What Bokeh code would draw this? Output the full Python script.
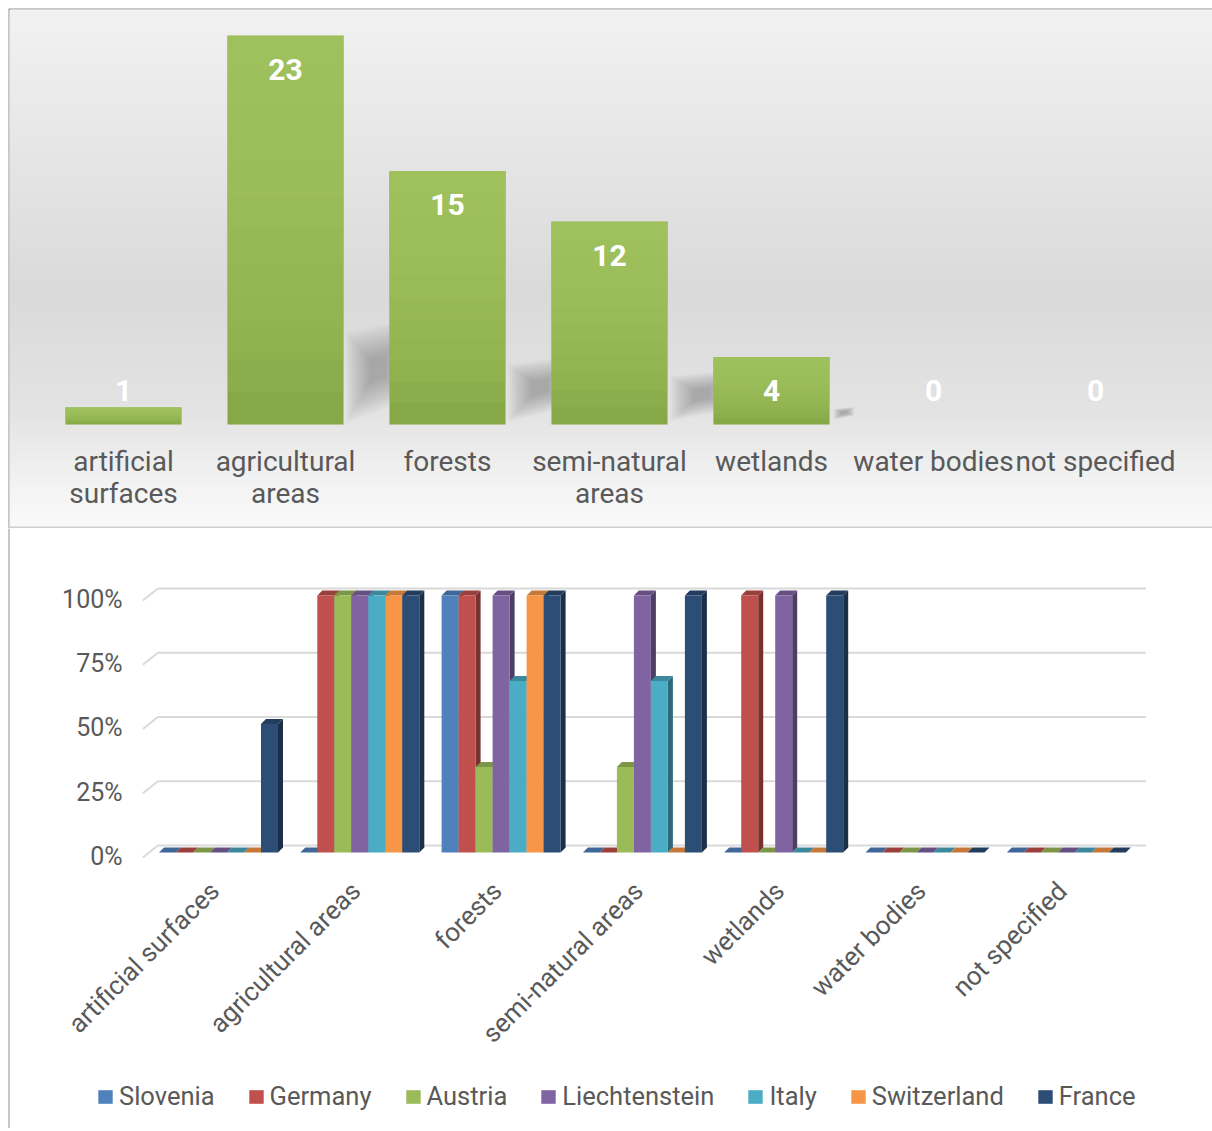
import numpy as np
from bokeh.plotting import figure
from bokeh.models import Range1d, Legend, LegendItem, Span
from bokeh.layouts import column
from bokeh.core.properties import value
from bokeh.embed import file_html
from bokeh.resources import INLINE

# ---------------- data ----------------
top_categories = ["artificial\nsurfaces", "agricultural\nareas", "forests",
                  "semi-natural\nareas", "wetlands", "water bodies", "not specified"]
top_counts = [1, 23, 15, 12, 4, 0, 0]

categories = ["artificial surfaces", "agricultural areas", "forests",
              "semi-natural areas", "wetlands", "water bodies", "not specified"]
countries = ["Slovenia", "Germany", "Austria", "Liechtenstein", "Italy", "Switzerland", "France"]
slovenia = [0, 0, 100, 0, 0, 0, 0]
germany = [0, 100, 100, 0, 100, 0, 0]
austria = [0, 100, 33.3, 33.3, 0, 0, 0]
liechtenstein = [0, 100, 100, 100, 100, 0, 0]
italy = [0, 100, 66.7, 66.7, 0, 0, 0]
switzerland = [0, 100, 100, 0, 0, 0, 0]
france = [50, 100, 100, 100, 100, 0, 0]
series = [slovenia, germany, austria, liechtenstein, italy, switzerland, france]
y_ticks = [0, 25, 50, 75, 100]
y_tick_labels = ["0%", "25%", "50%", "75%", "100%"]
colors = ["#4f81bd", "#c0504d", "#9bbb59", "#8064a2", "#4bacc6", "#f79646", "#2c4d75"]

FONT = value("Roboto")
GRAY_TXT = "#595959"


def shade(hexc, f):
    h = hexc.lstrip("#")
    r, g, b = (int(h[k:k + 2], 16) for k in (0, 2, 4))
    return "#%02x%02x%02x" % (int(r * f), int(g * f), int(b * f))


# ---------------- top chart ----------------
TW, TH = 1204, 520
tx0 = -0.7037
tx1 = tx0 + 1203 / 162
ty0, ty1 = -6.154, 24.556
top = figure(width=TW, height=TH, x_range=Range1d(tx0, tx1), y_range=Range1d(ty0, ty1),
             toolbar_location=None, output_backend="svg",
             x_axis_location=None, y_axis_location=None,
             min_border_left=1, min_border_top=1, min_border_right=0, min_border_bottom=0,
             border_fill_color="#222222", outline_line_color=None)
top.grid.visible = False

# background gradient
ny = 260
d = 1 - np.linspace(0, 1, ny)  # distance from top (row 0 is bottom)
gray = np.interp(d, [0, 0.3, 0.55, 0.78, 0.92, 1.0], [242, 229, 218, 228, 244, 250]).astype(np.uint8)
img = np.zeros((ny, 1), dtype=np.uint32)
view = img.view(dtype=np.uint8).reshape((ny, 1, 4))
view[:, 0, 0] = gray
view[:, 0, 1] = gray
view[:, 0, 2] = gray
view[:, 0, 3] = 255
top.image_rgba(image=[img], x=tx0, y=ty0, dw=tx1 - tx0, dh=ty1 - ty0)

xi = np.arange(len(top_counts))
vals = np.array(top_counts, dtype=float)
BARW = 0.716

# soft cast shadows behind the bars (layered polygons shrinking toward their centre)
xr = xi + BARW / 2
for k in range(13):
    s = 1.08 - 0.065 * k
    sxs, sys = [], []
    for x_edge, v in zip(xr, vals):
        if v < 3:
            continue
        y_hi = 0.23 * v
        y_lo = 0.3
        w = min(0.36, 0.03 * v)
        xa, xb = x_edge + 0.03, x_edge + 0.03 + w
        px = np.array([xa, xa, xb, xb])
        py = np.array([y_lo, y_hi, y_hi + 0.13 * y_hi, y_lo + 0.25 * y_hi])
        cxp, cyp = px.mean(), py.mean()
        sxs.append(list(cxp + (px - cxp) * s))
        sys.append(list(np.maximum(cyp + (py - cyp) * s, 0.05)))
    top.patches(xs=sxs, ys=sys, fill_color="black", fill_alpha=0.02, line_color=None)

top.vbar(x=xi, top=vals, bottom=0, width=BARW, fill_color="#80a342", line_color=None)
nl = 12
for k in range(nl):
    top.vbar(x=xi, top=vals, bottom=vals * (1 - (k + 1) / nl), width=BARW,
             fill_color="#a8c666", fill_alpha=0.15, line_color=None)

top.text(x=xi, y=np.maximum(vals - 2, 2), text=[str(v) for v in top_counts],
         text_align="center", text_baseline="middle", text_color="white",
         text_font=FONT, text_font_size="30px", text_font_style="bold")
top.text(x=xi, y=-1.2, text=top_categories, text_align="center", text_baseline="top",
         text_color=GRAY_TXT, text_font=FONT, text_font_size="28px", text_line_height=0.97)
top.add_layout(Span(location=ty0, dimension="width", line_color="#d0d0d0", line_width=4))

# ---------------- bottom chart ----------------
BW, BH = 1204, 600
PXX, PXY = 141.3, 2.57          # pixels per x unit / per percent
bx0, bx1 = (9 - 218) / PXX, (1212 - 218) / PXX
by0, by1 = (852 - 1128) / PXY, (852 - 528) / PXY
bot = figure(width=BW, height=BH, x_range=Range1d(bx0, bx1), y_range=Range1d(by0, by1),
             toolbar_location=None, output_backend="svg",
             x_axis_location=None, y_axis_location=None,
             min_border_left=1, min_border_right=0, min_border_top=0, min_border_bottom=0,
             border_fill_color="#222222", outline_line_color=None)
bot.grid.visible = False

# back-wall gridlines (3D offset)
gdx, gdy = 10 / PXX, 7 / PXY
yt = np.array(y_ticks, dtype=float)
bot.segment(x0=-0.5 + gdx, y0=yt + gdy, x1=6.563, y1=yt + gdy, line_color="#d9d9d9", line_width=2)
bot.segment(x0=-0.535, y0=yt - 5 / PXY, x1=-0.5 + gdx, y1=yt + gdy, line_color="#d9d9d9", line_width=2)

# y tick labels
bot.text(x=-0.679, y=yt - 1.5, text=y_tick_labels, text_align="right", text_baseline="middle",
         text_color=GRAY_TXT, text_font=FONT, text_font_size="25px")

bw = 0.1203
ddx, ddy = 5 / PXX, 5 / PXY
cx = np.arange(len(categories))
legend_items = []
for j, (vals_j, col, name) in enumerate(zip(series, colors, countries)):
    v = np.array(vals_j, dtype=float)
    x0 = cx + (j - 3) * bw - bw / 2
    x1 = x0 + bw
    side_xs = [[a, a + ddx, a + ddx, a] for a in x1]
    side_ys = [[0, ddy, h + ddy, h] for h in v]
    top_xs = [[a, b, b + ddx, a + ddx] for a, b in zip(x0, x1)]
    top_ys = [[h, h, h + ddy, h + ddy] for h in v]
    bot.patches(xs=side_xs, ys=side_ys, fill_color=shade(col, 0.62), line_color=None)
    bot.patches(xs=top_xs, ys=top_ys, fill_color=shade(col, 0.8), line_color=None)
    r = bot.vbar(x=cx + (j - 3) * bw, top=v, bottom=0, width=bw, fill_color=col, line_color=None)
    legend_items.append(LegendItem(label=name, renderers=[r]))

# rotated category labels
bot.text(x=cx - 4 / PXX, y=-34 / PXY, text=categories, angle=np.pi / 4,
         text_align="right", text_baseline="middle",
         text_color=GRAY_TXT, text_font=FONT, text_font_size="26px")

legend = Legend(items=legend_items, orientation="horizontal", location=(87, 17),
                border_line_color=None, background_fill_alpha=0, padding=0, margin=0,
                spacing=32, glyph_width=18, glyph_height=17, label_standoff=5,
                label_text_font="Roboto", label_text_font_size="25.5px",
                label_text_color=GRAY_TXT)
bot.add_layout(legend)

layout = column(top, bot, margin=(8, 0, 0, 8))

open("out.html", "w").write(file_html(layout, INLINE))
